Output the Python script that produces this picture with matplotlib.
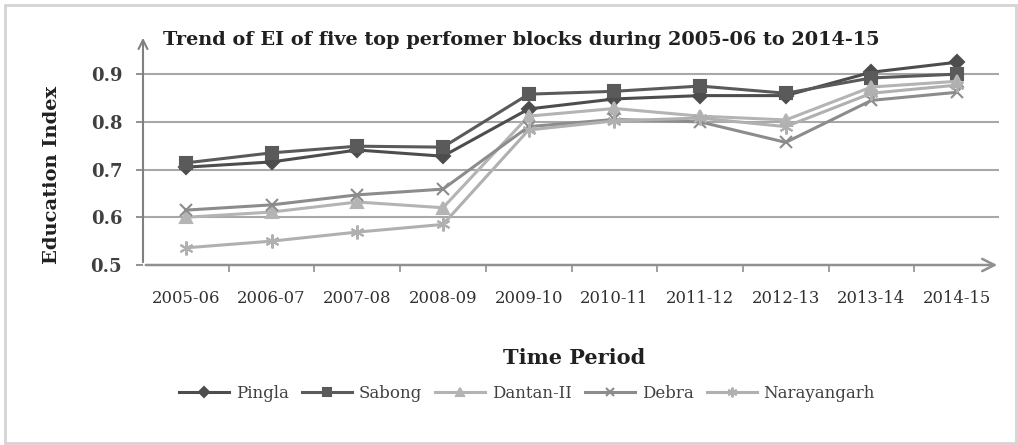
import numpy as np
import matplotlib
matplotlib.use('Agg')
import matplotlib.pyplot as plt
from matplotlib.patches import Rectangle

periods = ['2005-06', '2006-07', '2007-08', '2008-09', '2009-10',
           '2010-11', '2011-12', '2012-13', '2013-14', '2014-15']

pingla = [0.705, 0.716, 0.741, 0.728, 0.827, 0.848, 0.855, 0.855, 0.904, 0.925]
sabong = [0.714, 0.735, 0.749, 0.747, 0.858, 0.864, 0.875, 0.860, 0.892, 0.900]
dantan = [0.600, 0.611, 0.632, 0.620, 0.812, 0.828, 0.812, 0.804, 0.873, 0.885]
debra = [0.615, 0.626, 0.647, 0.659, 0.790, 0.805, 0.800, 0.757, 0.845, 0.862]
narayangarh = [0.536, 0.550, 0.569, 0.585, 0.783, 0.802, 0.808, 0.790, 0.860, 0.877]

names = ['Pingla', 'Sabong', 'Dantan-II', 'Debra', 'Narayangarh']
series = [pingla, sabong, dantan, debra, narayangarh]
colors = ['#4d4d4d', '#5a5a5a', '#b4b4b4', '#8c8c8c', '#b0b0b0']
markers = ['D', 's', '^', 'x', (6, 2, 0)]
msizes = [7, 9, 8, 9, 10]

plt.rcParams['font.family'] = 'DejaVu Serif'

fig = plt.figure(figsize=(10.18, 4.45), dpi=100)
fig.patches.append(Rectangle((5 / 1018, 2 / 445), 1011 / 1018, 438 / 445,
                             transform=fig.transFigure, fill=False,
                             edgecolor='#d4d4d4', linewidth=2))
ax = fig.add_axes([143 / 1018, 1 - 265 / 445, 857 / 1018, 230 / 445])

x = np.arange(len(periods))
for vals, nm, c, m, ms in zip(series, names, colors, markers, msizes):
    ax.plot(x, vals, color=c, marker=m, markersize=ms, linewidth=2.2,
            markeredgewidth=1.5, label=nm)

ax.set_xlim(-0.5, 9.5)
ax.set_ylim(0.5, 0.982)
ax.set_yticks([0.5, 0.6, 0.7, 0.8, 0.9])
ax.set_yticklabels(['0.5', '0.6', '0.7', '0.8', '0.9'], fontsize=13,
                   fontweight='bold', color='#404040')
ax.set_xticks(x)
ax.set_xticklabels(periods, fontsize=11.8, color='#303030')
ax.tick_params(axis='x', length=0, pad=18)
ax.tick_params(axis='y', length=5, color='#808080', width=1.2, pad=10)
ax.set_xticks(np.arange(0.5, 9.5, 1), minor=True)
ax.tick_params(axis='x', which='minor', length=5, color='#909090', width=1.2)

for v in [0.6, 0.7, 0.8, 0.9]:
    ax.plot([-0.5, 9.48], [v, v], color='#a8a8a8', linewidth=1.5, zorder=0)

for s in ax.spines.values():
    s.set_visible(False)
ax.annotate('', xy=(1.0, 0), xytext=(0, 0), xycoords='axes fraction',
            arrowprops=dict(arrowstyle='->', color='#909090', lw=1.8,
                            mutation_scale=22))
ax.annotate('', xy=(0, 1.0), xytext=(0, 0), xycoords='axes fraction',
            arrowprops=dict(arrowstyle='->', color='#808080', lw=1.5,
                            mutation_scale=16))

fig.text(163 / 1018, 1 - 40 / 445,
         'Trend of EI of five top perfomer blocks during 2005-06 to 2014-15',
         fontsize=13.9, fontweight='bold', va='center', ha='left', color='#202020')
fig.text(52 / 1018, 1 - 175 / 445, 'Education Index', rotation=90,
         fontsize=14, fontweight='bold', va='center', ha='center', color='#202020')
fig.text(574 / 1018, 1 - 358 / 445, 'Time Period', fontsize=15,
         fontweight='bold', va='center', ha='center', color='#202020')

fig.legend(loc='center', bbox_to_anchor=(527 / 1018, 1 - 393 / 445), ncol=5,
           frameon=False, fontsize=12, handlelength=3.0, columnspacing=0.8,
           handletextpad=0.4, markerscale=0.7, labelcolor='#404040')

fig.savefig('out.png', dpi=100)
